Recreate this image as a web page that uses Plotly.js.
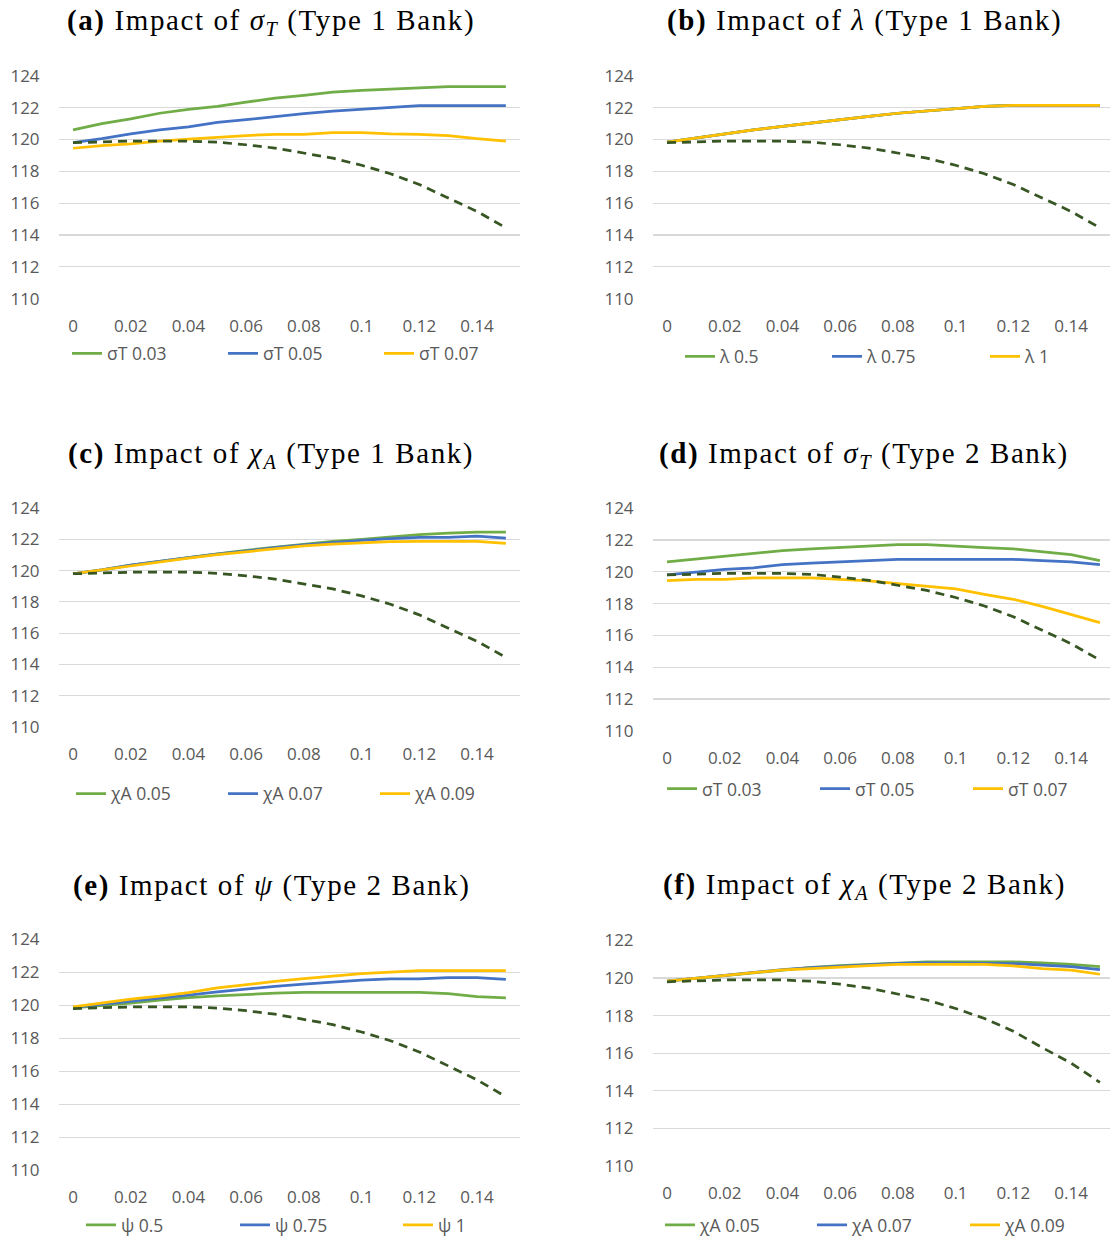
<!DOCTYPE html>
<html><head><meta charset="utf-8">
<script src="https://cdn.plot.ly/plotly-3.0.1.min.js"></script>
<style>html,body{margin:0;padding:0;background:#fff}
.annotation-text{letter-spacing:1.6px}</style>
</head><body><div id="chart" style="width:1110px;height:1243px"></div>
<script>
// ---------------- data ----------------
const xVals = [0,0.01,0.02,0.03,0.04,0.05,0.06,0.07,0.08,0.09,0.1,0.11,0.12,0.13,0.14,0.15];
const xTickVals = [0,0.02,0.04,0.06,0.08,0.1,0.12,0.14];
const xTickText = ['0','0.02','0.04','0.06','0.08','0.1','0.12','0.14'];
const yTicks124 = [110,112,114,116,118,120,122,124];
const yTicks122 = [110,112,114,116,118,120,122];

const benchmark = [119.8,119.85,119.9,119.9,119.9,119.83,119.67,119.46,119.15,118.83,118.38,117.85,117.17,116.3,115.48,114.45];

const aNames = ['σT 0.03','σT 0.05','σT 0.07'];
const a1 = [120.6,121.0,121.3,121.65,121.9,122.08,122.35,122.6,122.78,122.97,123.08,123.17,123.25,123.32,123.32,123.32];
const a2 = [119.8,120.05,120.35,120.6,120.8,121.07,121.25,121.45,121.62,121.78,121.9,122.05,122.13,122.13,122.13,122.13];
const a3 = [119.45,119.62,119.72,119.9,120.03,120.15,120.25,120.33,120.33,120.43,120.43,120.35,120.33,120.25,120.05,119.9];

const bNames = ['λ 0.5','λ 0.75','λ 1'];
const b1 = [119.83,120.1,120.35,120.6,120.83,121.05,121.27,121.45,121.65,121.8,121.94,122.08,122.15,122.15,122.15,122.15];
const b2 = [119.83,120.1,120.35,120.6,120.83,121.05,121.27,121.45,121.65,121.8,121.94,122.08,122.15,122.15,122.15,122.15];
const b3 = [119.83,120.1,120.35,120.6,120.83,121.05,121.27,121.45,121.65,121.8,121.94,122.08,122.15,122.15,122.15,122.15];

const cNames = ['χA 0.05','χA 0.07','χA 0.09'];
const c1 = [119.8,120.05,120.35,120.6,120.85,121.07,121.3,121.5,121.7,121.87,122.0,122.17,122.3,122.4,122.47,122.47];
const c2 = [119.8,120.05,120.35,120.6,120.83,121.05,121.27,121.47,121.65,121.8,121.93,122.05,122.13,122.13,122.2,122.08];
const c3 = [119.8,120.05,120.33,120.57,120.8,121.02,121.22,121.42,121.58,121.7,121.8,121.86,121.87,121.87,121.87,121.74];

const dNames = ['σT 0.03','σT 0.05','σT 0.07'];
const d1 = [120.62,120.8,120.98,121.15,121.33,121.44,121.54,121.63,121.71,121.71,121.6,121.52,121.44,121.28,121.08,120.7];
const d2 = [119.8,119.98,120.15,120.25,120.45,120.54,120.62,120.7,120.78,120.78,120.78,120.78,120.78,120.7,120.62,120.45];
const d3 = [119.45,119.52,119.52,119.62,119.62,119.62,119.52,119.42,119.25,119.08,118.92,118.58,118.27,117.82,117.33,116.8];

const eNames = ['ψ 0.5','ψ 0.75','ψ 1'];
const e1 = [119.85,119.98,120.13,120.32,120.47,120.57,120.67,120.74,120.79,120.79,120.79,120.79,120.79,120.71,120.53,120.45];
const e2 = [119.87,120.05,120.25,120.43,120.62,120.82,121.0,121.15,121.28,121.42,121.52,121.6,121.6,121.68,121.68,121.58];
const e3 = [119.9,120.13,120.37,120.55,120.77,121.05,121.27,121.45,121.62,121.78,121.92,122.02,122.1,122.1,122.1,122.1];

const fNames = ['χA 0.05','χA 0.07','χA 0.09'];
const f1 = [119.83,119.98,120.15,120.3,120.45,120.57,120.66,120.73,120.8,120.86,120.86,120.86,120.86,120.8,120.73,120.6];
const f2 = [119.83,119.98,120.15,120.3,120.45,120.55,120.64,120.72,120.78,120.8,120.8,120.8,120.77,120.68,120.6,120.45];
const f3 = [119.83,119.98,120.15,120.3,120.43,120.5,120.59,120.66,120.72,120.73,120.73,120.73,120.64,120.5,120.42,120.2];

const titles = [
  '<b>(a)</b> Impact of <i>σ</i><sub><i>T</i></sub> (Type 1 Bank)',
  '<b>(b)</b> Impact of <i>λ</i> (Type 1 Bank)',
  '<b>(c)</b> Impact of <i>χ</i><sub><i>A</i></sub> (Type 1 Bank)',
  '<b>(d)</b> Impact of <i>σ</i><sub><i>T</i></sub> (Type 2 Bank)',
  '<b>(e)</b> Impact of <i>ψ</i> (Type 2 Bank)',
  '<b>(f)</b> Impact of <i>χ</i><sub><i>A</i></sub> (Type 2 Bank)'
];

// ---------------- styling / geometry ----------------
const W = 1110, H = 1243;
const colors = ['#70AD47','#4472C4','#FFC000'];
const benchColor = '#375623';
const sans = '"Open Sans", "Noto Sans", sans-serif';
const serif = '"Liberation Serif", "DejaVu Serif", serif';
const txtColor = '#595959';

const panels = [
  {names:aNames, series:[a1,a2,a3], L:58.6, R:520.3, T:76, B:300, xr:[-0.005,0.155], yt:yTicks124, yr:[110,124],
   tx:271, ty:22, leg:[72,228,384], ly:355},
  {names:bNames, series:[b1,b2,b3], L:652.6, R:1110, T:76, B:300, xr:[-0.005,0.1535], yt:yTicks124, yr:[110,124],
   tx:864, ty:21, leg:[685,832,990], ly:358},
  {names:cNames, series:[c1,c2,c3], L:58.6, R:520.3, T:510, B:730, xr:[-0.005,0.155], yt:yTicks124, yr:[110,124],
   tx:271, ty:457, leg:[76,228,380], ly:797},
  {names:dNames, series:[d1,d2,d3], L:652.6, R:1110, T:510, B:734, xr:[-0.005,0.1535], yt:yTicks124, yr:[110,124],
   tx:864, ty:457, leg:[667,820,973], ly:792},
  {names:eNames, series:[e1,e2,e3], L:58.6, R:520.3, T:943, B:1175, xr:[-0.005,0.155], yt:yTicks124, yr:[110,124],
   tx:271, ty:889, leg:[86,240,403], ly:1230},
  {names:fNames, series:[f1,f2,f3], L:652.6, R:1110, T:944, B:1171, xr:[-0.005,0.1535], yt:yTicks122, yr:[110,122],
   tx:864, ty:890, leg:[665,817,970], ly:1230}
];

const traces = [];
const layout = {
  width: W, height: H,
  margin: {l:0, r:0, t:0, b:0},
  paper_bgcolor: '#ffffff', plot_bgcolor: '#ffffff',
  showlegend: true,
  annotations: [],
  font: {family: sans, size: 17, color: txtColor}
};

let legIdx = 0;
panels.forEach((p, i) => {
  const n = i + 1;
  const xa = 'xaxis' + (n === 1 ? '' : n), ya = 'yaxis' + (n === 1 ? '' : n);
  const xr = 'x' + (n === 1 ? '' : n), yr = 'y' + (n === 1 ? '' : n);
  layout[xa] = {
    domain: [p.L / W, Math.min(1, p.R / W)], anchor: yr, range: p.xr,
    tickmode: 'array', tickvals: xTickVals, ticktext: xTickText,
    showgrid: false, zeroline: false, showline: false, ticks: '',
    ticklabelstandoff: 15,
    tickfont: {family: sans, size: 17, color: txtColor}, fixedrange: true
  };
  layout[ya] = {
    domain: [1 - p.B / H, 1 - p.T / H], anchor: xr, range: [p.yr[0] - 0.01, p.yr[1] + 0.01],
    tickmode: 'array', tickvals: p.yt,
    showgrid: true, gridcolor: '#D9D9D9', gridwidth: 1.2,
    zeroline: false, showline: false, ticks: '',
    ticklabelstandoff: 18,
    tickfont: {family: sans, size: 17, color: txtColor}, fixedrange: true
  };
  p.series.forEach((s, k) => {
    legIdx++;
    const lk = 'legend' + (legIdx === 1 ? '' : legIdx);
    traces.push({
      type: 'scatter', mode: 'lines', x: xVals, y: s, name: p.names[k],
      xaxis: xr, yaxis: yr, legend: lk,
      line: {color: colors[k], width: 2.75}, hoverinfo: 'skip'
    });
    layout[lk] = {
      x: (p.leg[k] - 5) / W, y: 1 - p.ly / H, xanchor: 'left', yanchor: 'middle',
      orientation: 'h', bgcolor: 'rgba(0,0,0,0)', borderwidth: 0,
      font: {family: sans, size: 17.5, color: txtColor}
    };
  });
  traces.push({
    type: 'scatter', mode: 'lines', x: xVals, y: benchmark, name: 'benchmark',
    xaxis: xr, yaxis: yr, showlegend: false,
    line: {color: benchColor, width: 2.75, dash: '9px,6px'}, hoverinfo: 'skip'
  });
  layout.annotations.push({
    xref: 'paper', yref: 'paper', x: p.tx / W, y: 1 - p.ty / H,
    xanchor: 'center', yanchor: 'middle', showarrow: false,
    text: titles[i], font: {family: serif, size: 29, color: '#000000'}
  });
});

Plotly.newPlot('chart', traces, layout, {staticPlot: true, displayModeBar: false});
</script></body></html>
